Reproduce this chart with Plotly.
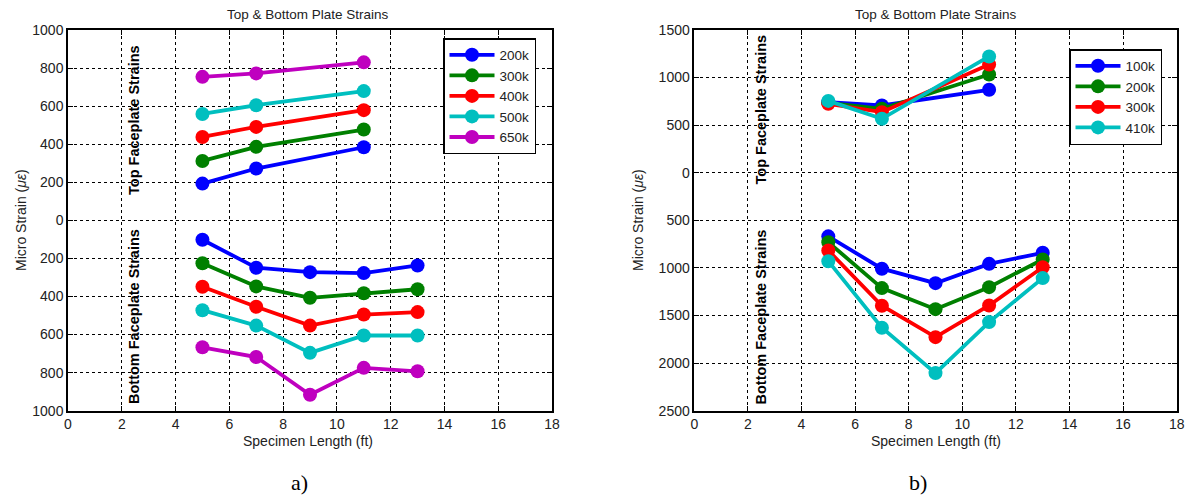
import plotly.graph_objects as go

# ---------------- data ----------------
x_top = [5, 7, 11]
x_bot = [5, 7, 9, 11, 13]

a_names = ["200k", "300k", "400k", "500k", "650k"]
a_top = [
    [193, 272, 384],
    [312, 386, 477],
    [438, 491, 579],
    [559, 605, 679],
    [754, 772, 830],
]
a_bot = [
    [-102, -249, -272, -277, -237],
    [-225, -347, -407, -383, -362],
    [-349, -454, -553, -495, -482],
    [-472, -553, -696, -605, -605],
    [-667, -718, -916, -775, -793],
]
a_colors = ["#0000FF", "#008000", "#FF0000", "#00BFBF", "#BF00BF"]

b_names = ["100k", "200k", "300k", "410k"]
b_top = [
    [742, 707, 872],
    [735, 672, 1033],
    [725, 637, 1138],
    [755, 567, 1222],
]
b_bot = [
    [-668, -1008, -1160, -957, -841],
    [-730, -1212, -1433, -1202, -911],
    [-816, -1397, -1727, -1394, -993],
    [-929, -1628, -2105, -1569, -1107],
]
b_colors = ["#0000FF", "#008000", "#FF0000", "#00BFBF"]

a_yticks = [1000, 800, 600, 400, 200, 0, -200, -400, -600, -800, -1000]
b_yticks = [1500, 1000, 500, 0, -500, -1000, -1500, -2000, -2500]
x_ticks = [0, 2, 4, 6, 8, 10, 12, 14, 16, 18]

fig = go.Figure()

def add_series(names, tops, bots, colors, xa, ya, legend):
    for n, t, b, c in zip(names, tops, bots, colors):
        fig.add_trace(go.Scatter(
            x=x_top + [None] + x_bot, y=t + [None] + b,
            mode="lines+markers", name=n,
            line=dict(color=c, width=3.8),
            marker=dict(color=c, size=14),
            xaxis=xa, yaxis=ya, legend=legend, connectgaps=False,
        ))

add_series(a_names, a_top, a_bot, a_colors, "x", "y", "legend")
add_series(b_names, b_top, b_bot, b_colors, "x2", "y2", "legend2")

# body margin is removed by the post_script below, so the figure sits at (0, 0)
W, H = 1187, 499

def px(x):
    return x / W

def py(y):
    return 1 - y / H

ydom = [py(410.7), py(30)]
FONT = "Liberation Sans, Arial"
tickfont = dict(family=FONT, size=14, color="#222")

common_axis = dict(
    showline=True, linecolor="black", linewidth=1.5, mirror="ticks",
    ticks="inside", ticklen=5, tickcolor="black",
    showgrid=True, gridcolor="black", griddash="dot", gridwidth=1,
    zeroline=False, tickfont=tickfont, automargin=False,
    ticklabeloverflow="allow",
)

legend_common = dict(xanchor="left", yanchor="top",
                     bgcolor="white", bordercolor="black", borderwidth=1.5,
                     font=dict(family=FONT, size=13.5, color="#222"),
                     itemwidth=45, tracegroupgap=0)

fig.update_layout(
    width=W, height=H,
    margin=dict(l=0, r=0, t=0, b=0, autoexpand=False),
    paper_bgcolor="white", plot_bgcolor="white",
    showlegend=True,
    xaxis=dict(domain=[px(68), px(552)], range=[0, 18], tickvals=x_ticks, anchor="y", **common_axis),
    yaxis=dict(domain=ydom, range=[-1000, 1000], tickvals=a_yticks,
               ticktext=[str(abs(v)) for v in a_yticks], anchor="x", **common_axis),
    xaxis2=dict(domain=[px(694.3), px(1176.7)], range=[0, 18], tickvals=x_ticks, anchor="y2", **common_axis),
    yaxis2=dict(domain=ydom, range=[-2500, 1500], tickvals=b_yticks,
                ticktext=[str(abs(v)) for v in b_yticks], anchor="x2", **common_axis),
    legend=dict(x=px(443), y=py(38), **legend_common),
    legend2=dict(x=px(1069), y=py(49), **legend_common),
)

ann_font = dict(family=FONT, size=14.5, color="black")
lab_font = dict(family=FONT, size=14, color="#222")
title_font = dict(family=FONT, size=13.5, color="#222")
serif = dict(family="Liberation Serif, Times New Roman", size=22, color="black")

def ann(text, x, y, font, angle=0):
    return dict(text=text, x=px(x), y=py(y), xref="paper", yref="paper",
                xanchor="center", yanchor="middle", showarrow=False,
                textangle=angle, font=font)

annotations = [
    ann("Top & Bottom Plate Strains", 308, 14, title_font),
    ann("Top & Bottom Plate Strains", 935.5, 14, title_font),
    ann("Specimen Length (ft)", 308, 441, lab_font),
    ann("Specimen Length (ft)", 935.5, 441, lab_font),
    ann("Micro Strain (<i>με</i>)", 21, 220, lab_font, -90),
    ann("Micro Strain (<i>με</i>)", 638, 220, lab_font, -90),
    ann("<b>Top Faceplate Strains</b>", 134, 120, ann_font, -90),
    ann("<b>Bottom Faceplate Strains</b>", 134, 317, ann_font, -90),
    ann("<b>Top Faceplate Strains</b>", 760.5, 110, ann_font, -90),
    ann("<b>Bottom Faceplate Strains</b>", 760.5, 317, ann_font, -90),
    ann("a)", 300, 482, serif),
    ann("b)", 918, 482, serif),
]
fig.update_layout(annotations=annotations)

fig.write_html(
    "out.html",
    config={"displayModeBar": False},
    post_script="document.body.style.margin='0px';document.body.style.overflow='hidden';",
)
